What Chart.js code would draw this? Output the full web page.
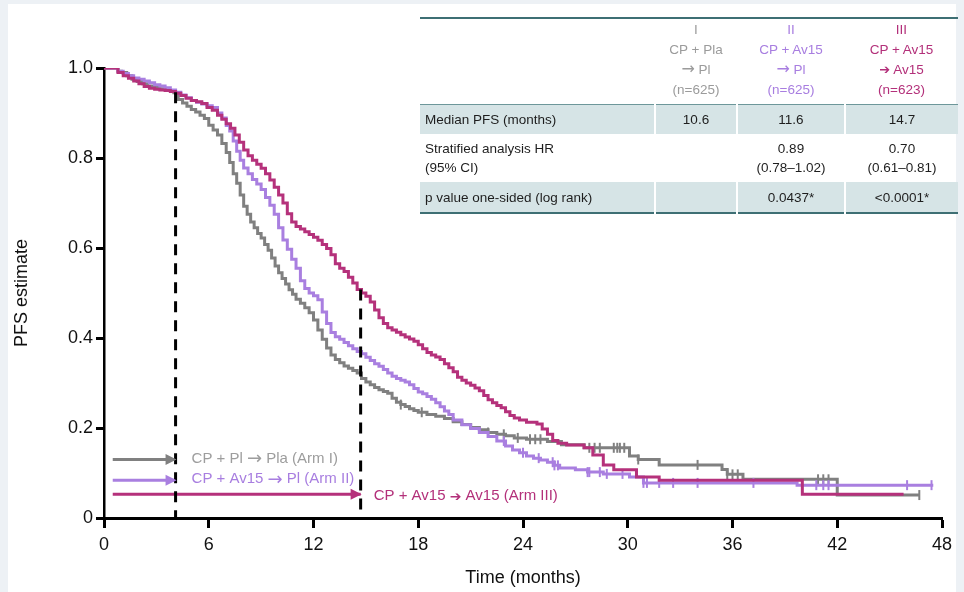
<!DOCTYPE html>
<html>
<head>
<meta charset="utf-8">
<title>PFS by arm</title>
<script src="https://cdn.jsdelivr.net/npm/chart.js@4.4.1/dist/chart.umd.min.js"></script>
<style>
  html, body { margin: 0; padding: 0; background: #edf1f5; }
  body { width: 964px; height: 592px; position: relative; overflow: hidden; font-family: "Liberation Sans", Arial, sans-serif; }
  .panel { position: absolute; left: 8px; top: 4px; width: 948px; height: 588px; background: #fff; }
  #pfsChart { position: absolute; left: 0; top: 0; }
  table.stats { position: absolute; left: 420px; top: 17px; width: 538px; border-collapse: collapse; font-size: 13.5px; color: #1e1e1e; }
  table.stats thead tr { border-top: 2px solid #3e6f74; }
  table.stats th { font-weight: normal; vertical-align: bottom; text-align: center; line-height: 20px; padding: 0 0 4px 0; height: 81px; border-bottom: 1.5px solid #6d979a; }
  table.stats td { text-align: center; padding: 0; line-height: 19px; border-left: 2px solid #fff; }
  table.stats td:first-child { text-align: left; padding-left: 5px; border-left: none; }
  table.stats tr.shade td { background: #d6e4e6; }
  table.stats tr.r1 td { height: 29px; }
  table.stats tr.r2 td { height: 48px; }
  table.stats tr.r3 td { height: 30px; }
  table.stats tbody tr:last-child { border-bottom: 2px solid #3e6f74; }
  .arr { font-family: "DejaVu Sans", sans-serif; font-size: 16px; line-height: 16px; }
  .arm1 { color: #9b9b9b; }
  .arm2 { color: #a87ee0; }
  .arm3 { color: #b3307a; }
</style>
</head>
<body>
<div class="panel"></div>
<canvas id="pfsChart" width="964" height="592"></canvas>
<table class="stats">
  <colgroup><col style="width:235px"><col style="width:82px"><col style="width:108px"><col style="width:113px"></colgroup>
  <thead>
    <tr>
      <th></th>
      <th class="arm1">I<br>CP + Pla<br><span class="arr">→</span> Pl<br>(n=625)</th>
      <th class="arm2">II<br>CP + Av15<br><span class="arr">→</span> Pl<br>(n=625)</th>
      <th class="arm3">III<br>CP + Av15<br><span class="arr" style="font-size:13px">➔</span> Av15<br>(n=623)</th>
    </tr>
  </thead>
  <tbody>
    <tr class="shade r1"><td>Median PFS (months)</td><td>10.6</td><td>11.6</td><td>14.7</td></tr>
    <tr class="r2"><td>Stratified analysis HR<br>(95% CI)</td><td></td><td>0.89<br>(0.78–1.02)</td><td>0.70<br>(0.61–0.81)</td></tr>
    <tr class="shade r3"><td>p value one-sided (log rank)</td><td></td><td>0.0437*</td><td>&lt;0.0001*</td></tr>
  </tbody>
</table>
<script>
// Kaplan-Meier steps: time (months) and PFS estimate after each drop
const armITimes = [0, 0.8, 1.0, 1.3, 1.6, 1.9, 2.2, 2.5, 2.8, 3.1, 3.4, 3.7, 4.0, 4.25, 4.5, 4.75, 5.0, 5.25, 5.5, 5.75, 6.0, 6.25, 6.5, 6.75, 7.0, 7.2, 7.4, 7.6, 7.8, 8.0, 8.2, 8.4, 8.6, 8.8, 9.0, 9.2, 9.4, 9.6, 9.8, 10.0, 10.2, 10.4, 10.6, 10.8, 11.0, 11.25, 11.5, 11.75, 12.0, 12.25, 12.5, 12.75, 13.0, 13.25, 13.5, 13.75, 14.0, 14.25, 14.5, 14.75, 15.0, 15.25, 15.5, 15.75, 16.0, 16.25, 16.5, 16.75, 17.0, 17.25, 17.5, 17.75, 18.0, 18.5, 19.0, 19.5, 20.0, 20.5, 21.0, 21.5, 22.0, 22.5, 23.0, 23.5, 24.2, 25.4, 26.2, 27.5, 30.1, 30.6, 31.8, 35.4, 35.7, 36.6, 42.0, 46.7];
const armISurv  = [1.0, 0.993, 0.99, 0.983, 0.975, 0.97, 0.965, 0.96, 0.957, 0.954, 0.952, 0.95, 0.945, 0.93, 0.922, 0.915, 0.908, 0.902, 0.895, 0.888, 0.873, 0.862, 0.851, 0.832, 0.812, 0.79, 0.765, 0.744, 0.718, 0.693, 0.675, 0.658, 0.645, 0.632, 0.622, 0.608, 0.595, 0.578, 0.56, 0.545, 0.532, 0.52, 0.507, 0.497, 0.486, 0.477, 0.467, 0.456, 0.44, 0.418, 0.397, 0.378, 0.362, 0.352, 0.345, 0.338, 0.333, 0.328, 0.322, 0.31, 0.302, 0.296, 0.29, 0.285, 0.281, 0.277, 0.266, 0.257, 0.252, 0.248, 0.243, 0.239, 0.235, 0.23, 0.226, 0.221, 0.214, 0.208, 0.201, 0.196, 0.19, 0.186, 0.183, 0.178, 0.175, 0.17, 0.163, 0.156, 0.138, 0.13, 0.118, 0.108, 0.097, 0.086, 0.051, 0.051];

const armIITimes = [0, 0.8, 1.1, 1.4, 1.7, 2.0, 2.3, 2.6, 2.9, 3.2, 3.5, 3.8, 4.1, 4.4, 4.7, 5.0, 5.3, 5.6, 5.9, 6.2, 6.5, 6.75, 7.0, 7.2, 7.4, 7.6, 7.8, 8.0, 8.25, 8.5, 8.75, 9.0, 9.25, 9.5, 9.75, 10.0, 10.25, 10.5, 10.75, 11.0, 11.25, 11.5, 11.75, 12.0, 12.25, 12.5, 12.75, 13.0, 13.25, 13.5, 13.75, 14.0, 14.25, 14.5, 14.75, 15.0, 15.25, 15.5, 15.75, 16.0, 16.25, 16.5, 16.75, 17.0, 17.25, 17.5, 17.75, 18.0, 18.25, 18.5, 18.75, 19.0, 19.25, 19.5, 19.75, 20.0, 20.5, 21.0, 21.5, 22.0, 22.5, 23.0, 23.4, 23.8, 24.2, 24.6, 25.0, 25.4, 25.8, 26.1, 27.0, 27.7, 28.6, 30.1, 30.9, 39.7, 47.5];
const armIISurv  = [1.0, 0.993, 0.988, 0.983, 0.978, 0.975, 0.971, 0.967, 0.963, 0.96, 0.956, 0.951, 0.946, 0.94, 0.934, 0.928, 0.924, 0.92, 0.916, 0.912, 0.9, 0.889, 0.872, 0.86, 0.838, 0.815, 0.795, 0.778, 0.765, 0.752, 0.742, 0.73, 0.712, 0.695, 0.675, 0.645, 0.618, 0.597, 0.575, 0.555, 0.527, 0.51, 0.5, 0.494, 0.485, 0.458, 0.432, 0.412, 0.403, 0.397, 0.39, 0.383, 0.376, 0.37, 0.365, 0.357, 0.35, 0.343, 0.337, 0.33, 0.322, 0.315, 0.31, 0.306, 0.302, 0.296, 0.288, 0.28, 0.276, 0.27, 0.264, 0.256, 0.247, 0.238, 0.23, 0.218, 0.207, 0.199, 0.19, 0.181, 0.171, 0.16, 0.151, 0.145, 0.138, 0.133, 0.129, 0.124, 0.117, 0.111, 0.107, 0.102, 0.098, 0.091, 0.078, 0.073, 0.073];

const armIIITimes = [0, 0.8, 1.1, 1.4, 1.7, 2.0, 2.3, 2.6, 2.9, 3.2, 3.5, 3.8, 4.1, 4.4, 4.7, 5.0, 5.3, 5.6, 5.9, 6.2, 6.5, 6.75, 7.0, 7.25, 7.5, 7.75, 8.0, 8.25, 8.5, 8.75, 9.0, 9.25, 9.5, 9.75, 10.0, 10.25, 10.5, 10.75, 11.0, 11.25, 11.5, 11.75, 12.0, 12.25, 12.5, 12.75, 13.0, 13.25, 13.5, 13.75, 14.0, 14.25, 14.5, 14.75, 15.0, 15.25, 15.5, 15.75, 16.0, 16.25, 16.5, 16.75, 17.0, 17.25, 17.5, 17.75, 18.0, 18.25, 18.5, 18.75, 19.0, 19.25, 19.5, 19.75, 20.0, 20.25, 20.5, 20.75, 21.0, 21.25, 21.5, 21.75, 22.0, 22.25, 22.5, 22.75, 23.0, 23.25, 23.5, 23.8, 24.2, 24.8, 25.1, 25.4, 25.7, 26.0, 26.5, 27.5, 28.0, 28.6, 29.2, 30.5, 31.8, 40.0, 45.8];
const armIIISurv  = [1.0, 0.99, 0.983, 0.977, 0.971, 0.965, 0.959, 0.955, 0.953, 0.951, 0.95, 0.948, 0.944, 0.939, 0.933, 0.928, 0.925, 0.921, 0.912, 0.906, 0.895, 0.886, 0.876, 0.866, 0.851, 0.835, 0.818, 0.805, 0.795, 0.786, 0.777, 0.765, 0.751, 0.735, 0.718, 0.7, 0.676, 0.658, 0.648, 0.642, 0.636, 0.63, 0.624, 0.617, 0.608, 0.599, 0.585, 0.565, 0.555, 0.548, 0.535, 0.522, 0.508, 0.5, 0.493, 0.48, 0.462, 0.445, 0.432, 0.423, 0.418, 0.413, 0.407, 0.402, 0.398, 0.393, 0.385, 0.376, 0.368, 0.362, 0.358, 0.352, 0.343, 0.334, 0.325, 0.313, 0.306, 0.3, 0.295, 0.289, 0.283, 0.272, 0.263, 0.256, 0.25, 0.245, 0.236, 0.228, 0.222, 0.218, 0.213, 0.209, 0.198, 0.186, 0.172, 0.166, 0.162, 0.156, 0.14, 0.118, 0.107, 0.091, 0.084, 0.053, 0.053];

// censored observations (months)
const armICensored = [17.0, 18.2, 22.0, 22.9, 23.7, 24.4, 24.7, 25.0, 27.8, 28.1, 28.4, 29.2, 29.4, 29.55, 29.8, 30.6, 34.0, 35.7, 36.0, 36.3, 40.9, 41.2, 41.5, 46.7];
const armIICensored = [22.9, 24.0, 24.9, 25.7, 25.8, 26.0, 27.7, 27.8, 28.4, 28.8, 29.7, 30.9, 31.1, 31.8, 32.6, 34.0, 37.2, 40.8, 41.2, 41.5, 46.0, 47.4];

// landmark / median times marked with dashed lines
const landmarkTimes = [4.1, 14.7];

const monthTicks = [0, 6, 12, 18, 24, 30, 36, 42, 48];

const GRAY = '#808080', PURPLE = '#a97fe0', MAGENTA = '#b5317b';
const FONT = '"Liberation Sans", Arial, sans-serif';
const ARROW_FONT = '"DejaVu Sans", sans-serif';

function steps(times, surv) {
  return times.map((t, i) => ({ x: t, y: surv[i] }));
}

function survAt(times, surv, t) {
  let s = surv[0];
  for (let i = 0; i < times.length; i++) {
    if (times[i] <= t) s = surv[i]; else break;
  }
  return s;
}

function censorPoints(times, surv, cens) {
  return cens.map(t => ({ x: t, y: survAt(times, surv, t) }));
}

function curve(label, times, surv, color, order) {
  return {
    label, data: steps(times, surv), stepped: 'before',
    borderColor: color, borderWidth: 3, pointRadius: 0, fill: false, order
  };
}

function censors(label, times, surv, cens, color, order) {
  return {
    label, data: censorPoints(times, surv, cens), showLine: false,
    pointStyle: 'line', rotation: 90, pointRadius: 5, pointBorderWidth: 2,
    borderColor: color, backgroundColor: color, order
  };
}

function dashed(t, times, surv) {
  return {
    label: 'landmark', data: [{ x: t, y: survAt(times, surv, t) }, { x: t, y: 0 }],
    borderColor: '#000', borderWidth: 3, borderDash: [11, 8], pointRadius: 0, order: 0
  };
}

// legend arrows in the lower left corner; text parts around the arrow glyph
const arrows = [
  { parts: ['CP + Pl ', '→', ' Pla (Arm I)'], arrowSize: 18, from: 0.5, to: landmarkTimes[0], level: 0.130, color: GRAY, textColor: '#9d9d9d', gap: 16, dy: -1 },
  { parts: ['CP + Av15 ', '→', ' Pl (Arm II)'], arrowSize: 18, from: 0.5, to: landmarkTimes[0], level: 0.084, color: PURPLE, textColor: '#a87ee0', gap: 16, dy: -1 },
  { parts: ['CP + Av15 ', '➔', ' Av15 (Arm III)'], arrowSize: 14, from: 0.5, to: landmarkTimes[1], level: 0.053, color: MAGENTA, textColor: '#b3307a', gap: 13, dy: 2 }
];

const arrowShafts = arrows.map(a => ({
  label: 'arrow', data: [{ x: a.from, y: a.level }, { x: a.to, y: a.level }],
  borderColor: a.color, borderWidth: 3, pointRadius: 0, order: 5
}));

const arrowHeads = {
  id: 'arrowHeads',
  afterDatasetsDraw(chart) {
    const { ctx, scales: { x, y } } = chart;
    ctx.save();
    arrows.forEach(a => {
      const px = x.getPixelForValue(a.to);
      const py = y.getPixelForValue(a.level);
      ctx.fillStyle = a.color;
      ctx.beginPath();
      ctx.moveTo(px + 1, py);
      ctx.lineTo(px - 10, py - 5.5);
      ctx.lineTo(px - 10, py + 5.5);
      ctx.closePath();
      ctx.fill();
      ctx.fillStyle = a.textColor;
      ctx.textBaseline = 'middle';
      ctx.textAlign = 'left';
      let tx = px + a.gap;
      a.parts.forEach((p, i) => {
        ctx.font = i === 1 ? a.arrowSize + 'px ' + ARROW_FONT : '15px ' + FONT;
        ctx.fillText(p, tx, py + a.dy + (i === 1 ? 1 : 0));
        tx += ctx.measureText(p).width;
      });
    });
    ctx.restore();
  }
};

const ctx = document.getElementById('pfsChart').getContext('2d');
new Chart(ctx, {
  type: 'line',
  data: {
    datasets: [
      dashed(landmarkTimes[0], armIITimes, armIISurv),
      dashed(landmarkTimes[1], armIIITimes, armIIISurv),
      curve('Arm III', armIIITimes, armIIISurv, MAGENTA, 1),
      curve('Arm II', armIITimes, armIISurv, PURPLE, 2),
      curve('Arm I', armITimes, armISurv, GRAY, 3),
      censors('Arm II censored', armIITimes, armIISurv, armIICensored, PURPLE, 2),
      censors('Arm I censored', armITimes, armISurv, armICensored, GRAY, 3),
      ...arrowShafts
    ]
  },
  plugins: [arrowHeads],
  options: {
    responsive: false,
    animation: false,
    parsing: false,
    layout: { padding: { top: 68, right: 22, left: 0, bottom: 0 } },
    plugins: { legend: { display: false }, tooltip: { enabled: false } },
    scales: {
      x: {
        type: 'linear', min: 0, max: 48,
        afterBuildTicks: scale => { scale.ticks = monthTicks.map(v => ({ value: v })); },
        afterFit: scale => { scale.height = 74; },
        grid: { drawOnChartArea: false, drawTicks: true, tickLength: 10, tickWidth: 3, tickColor: '#000' },
        border: { display: true, color: '#000', width: 3 },
        ticks: { color: '#111', padding: 6, font: { family: FONT, size: 18 } },
        title: { display: true, text: 'Time (months)', color: '#111', padding: { top: 0, bottom: 3 }, font: { family: FONT, size: 18 } }
      },
      y: {
        type: 'linear', min: 0, max: 1,
        ticks: {
          stepSize: 0.2, color: '#111', padding: 3, font: { family: FONT, size: 18 },
          callback: v => (v === 0 ? '0' : v.toFixed(1))
        },
        afterFit: scale => { scale.width = 104; },
        grid: { drawOnChartArea: false, drawTicks: true, tickLength: 8, tickWidth: 3, tickColor: '#000' },
        border: { display: true, color: '#000', width: 2.5 },
        title: { display: true, text: 'PFS estimate', color: '#111', padding: { top: 11, bottom: 0 }, font: { family: FONT, size: 18 } }
      }
    }
  }
});
</script>
</body>
</html>
